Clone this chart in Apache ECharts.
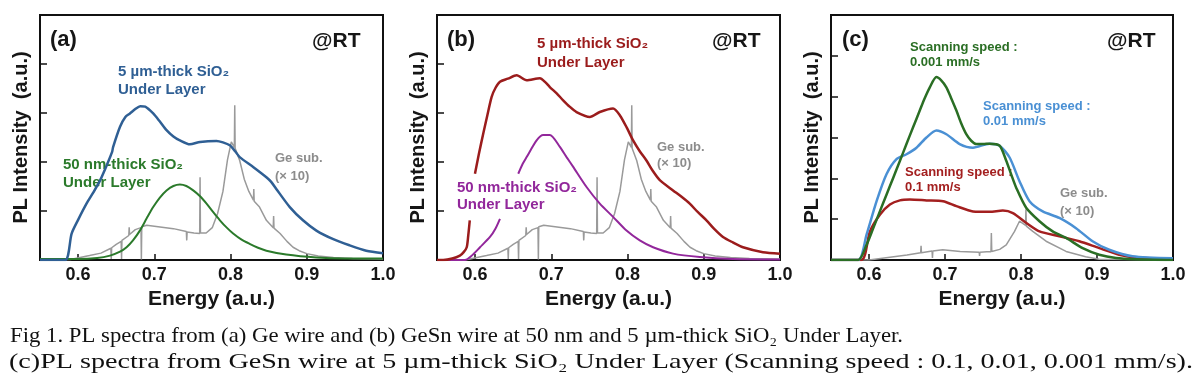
<!DOCTYPE html>
<html>
<head>
<meta charset="utf-8">
<script src="https://cdn.jsdelivr.net/npm/echarts@6/dist/echarts.min.js"></script>
<style>html,body{margin:0;padding:0;background:#fff;}#c{width:1200px;height:386px;}</style>
</head>
<body>
<div id="c"></div>
<script>
// ---------- tick values ----------
const xTicks = [0.6, 0.7, 0.8, 0.9, 1.0];

// ---------- Ge substrate reference (x10), panels a and b ----------
const geSubAB = [[0.550,0.00],[0.590,0.01],[0.615,0.09],[0.630,0.14],[0.643,0.24],[0.6435,0.02],[0.644,0.25],[0.650,0.32],
  [0.6565,0.38],[0.657,0.02],[0.6575,0.40],[0.6665,0.50],[0.667,0.67],[0.6675,0.52],[0.675,0.62],[0.6825,0.66],[0.683,0.01],
  [0.6835,0.68],[0.690,0.71],[0.700,0.69],[0.710,0.67],[0.725,0.64],[0.742,0.58],[0.7425,0.40],[0.743,0.57],[0.752,0.55],
  [0.7595,0.54],[0.760,1.69],[0.7605,0.55],[0.768,0.55],[0.776,0.66],[0.783,0.95],[0.790,1.40],[0.796,2.05],[0.801,2.41],
  [0.805,2.30],[0.8055,3.16],[0.806,2.28],[0.812,2.03],[0.818,1.65],[0.824,1.40],[0.830,1.22],[0.8305,1.45],[0.831,1.20],
  [0.838,1.08],[0.847,0.81],[0.856,0.66],[0.8565,0.90],[0.857,0.65],[0.865,0.54],[0.874,0.38],[0.882,0.26],[0.890,0.19],
  [0.900,0.13],[0.915,0.08],[0.935,0.05],[0.960,0.03],[1.000,0.02]];

// ---------- panel (a): Ge wire ----------
const aThick5um = [[0.550,0.00],[0.583,0.00],[0.5915,0.54],[0.600,0.82],[0.611,1.15],[0.620,1.38],[0.629,1.63],[0.638,1.95],
  [0.6445,2.20],[0.646,2.31],[0.655,2.72],[0.662,2.92],[0.668,2.99],[0.675,3.08],[0.6815,3.14],[0.688,3.13],[0.6985,2.99],
  [0.707,2.83],[0.716,2.65],[0.725,2.52],[0.7335,2.44],[0.7466,2.36],[0.760,2.41],[0.7816,2.43],[0.790,2.40],[0.799,2.34],
  [0.806,2.22],[0.812,2.10],[0.8296,1.90],[0.847,1.69],[0.853,1.60],[0.860,1.45],[0.8777,1.08],[0.895,0.81],[0.9126,0.60],
  [0.934,0.43],[0.956,0.30],[0.978,0.19],[1.000,0.14]];
const aThin50nm = [[0.550,0.02],[0.600,0.02],[0.625,0.04],[0.6418,0.09],[0.655,0.17],[0.6636,0.26],[0.672,0.40],[0.681,0.60],
  [0.690,0.85],[0.6985,1.08],[0.707,1.27],[0.716,1.42],[0.725,1.51],[0.7335,1.54],[0.742,1.51],[0.751,1.42],[0.760,1.30],
  [0.7685,1.15],[0.777,0.98],[0.786,0.81],[0.795,0.66],[0.8034,0.54],[0.814,0.42],[0.825,0.33],[0.836,0.25],[0.847,0.19],
  [0.873,0.11],[0.9126,0.05],[0.950,0.03],[1.000,0.03]];

// ---------- panel (b): GeSn wire ----------
const bThick5um = [[0.550,0.00],[0.5583,0.00],[0.570,0.03],[0.580,0.09],[0.585,0.16],[0.589,0.26],[0.591,0.50],[0.593,0.81],
  [0.596,null],[0.5998,1.76],[0.605,2.17],[0.6107,2.58],[0.616,2.95],[0.6217,3.33],[0.627,3.52],[0.6326,3.64],[0.643,3.70],
  [0.6545,3.77],[0.6676,3.67],[0.685,3.71],[0.692,3.63],[0.698,3.53],[0.707,3.40],[0.7155,3.26],[0.724,3.13],[0.733,3.02],
  [0.7505,2.92],[0.7636,3.02],[0.781,3.09],[0.790,2.95],[0.799,2.70],[0.8073,2.44],[0.816,2.22],[0.8248,2.03],[0.833,1.82],
  [0.8423,1.63],[0.8597,1.42],[0.870,1.30],[0.8816,1.15],[0.892,0.98],[0.9035,0.81],[0.914,0.63],[0.9252,0.47],[0.938,0.36],
  [0.9514,0.26],[0.9776,0.16],[1.000,0.13]];
const bThin50nm = [[0.550,0.00],[0.5867,0.00],[0.595,0.08],[0.6064,0.26],[0.6195,0.47],[0.627,0.65],[0.6326,0.84],[0.645,null],
  [0.6566,1.76],[0.662,1.95],[0.6676,2.10],[0.6807,2.44],[0.6893,2.55],[0.698,2.55],[0.7112,2.31],[0.720,2.10],[0.7287,1.90],
  [0.7462,1.49],[0.7636,1.15],[0.781,0.88],[0.7986,0.60],[0.816,0.40],[0.8335,0.26],[0.8597,0.13],[0.8947,0.06],[0.938,0.02],
  [1.000,0.01]];

// ---------- panel (c): scanning speeds ----------
const cSpeed0001 = [[0.550,0.00],[0.5858,0.00],[0.5968,0.37],[0.605,0.75],[0.6143,1.19],[0.623,1.60],[0.6318,2.01],[0.6405,2.42],
  [0.6493,2.84],[0.658,3.25],[0.6668,3.66],[0.673,3.95],[0.680,4.23],[0.6887,4.48],[0.695,4.40],[0.7018,4.23],[0.708,3.97],
  [0.715,3.66],[0.721,3.36],[0.728,3.08],[0.7345,2.92],[0.7412,2.84],[0.750,2.84],[0.7587,2.85],[0.7718,2.80],[0.7806,2.43],
  [0.787,2.10],[0.7937,1.77],[0.8068,1.28],[0.8243,0.95],[0.8417,0.70],[0.8593,0.54],[0.8811,0.29],[0.903,0.13],[0.925,0.05],
  [0.950,0.02],[1.000,0.00]];
const cSpeed001 = [[0.550,0.00],[0.5858,0.00],[0.5968,0.62],[0.610,1.44],[0.623,2.10],[0.6362,2.47],[0.6493,2.59],[0.6625,2.75],
  [0.6756,3.00],[0.6887,3.17],[0.7018,3.08],[0.7193,2.84],[0.7368,2.75],[0.7587,2.85],[0.7718,2.80],[0.785,2.51],[0.798,1.93],
  [0.8112,1.44],[0.8286,1.19],[0.8505,1.03],[0.8724,0.78],[0.8942,0.46],[0.9161,0.25],[0.9467,0.09],[1.000,0.04]];
const cSpeed01 = [[0.550,0.00],[0.590,0.00],[0.6012,0.70],[0.6143,1.11],[0.6275,1.36],[0.6406,1.46],[0.6537,1.48],[0.6756,1.46],
  [0.6974,1.44],[0.715,1.32],[0.7368,1.19],[0.7587,1.18],[0.7761,1.21],[0.7893,1.15],[0.8068,0.91],[0.8243,0.70],[0.8505,0.58],
  [0.8767,0.46],[0.903,0.29],[0.9292,0.13],[0.9512,0.06],[1.000,0.03]];
const cGeSub = [[0.550,0.00],[0.600,0.00],[0.620,0.05],[0.650,0.12],[0.668,0.18],[0.6685,0.35],[0.669,0.18],[0.683,0.22],
  [0.6835,0.05],[0.684,0.22],[0.697,0.25],[0.720,0.21],[0.745,0.19],[0.7455,0.10],[0.746,0.19],[0.755,0.20],[0.7605,0.20],
  [0.761,0.66],[0.7615,0.21],[0.772,0.26],[0.7806,0.37],[0.7915,0.70],[0.798,0.95],[0.806,0.85],[0.8065,1.24],[0.807,0.83],
  [0.8155,0.70],[0.833,0.46],[0.8593,0.21],[0.885,0.08],[0.903,0.02],[1.000,0.00]];

// ---------- texts ----------
const captionLines = [
  'Fig 1. PL spectra from (a) Ge wire and (b) GeSn wire at 50 nm and 5 \u00b5m-thick SiO\u2082 Under Layer.',
  '(c)PL spectra from GeSn wire at 5 \u00b5m-thick SiO\u2082 Under Layer (Scanning speed : 0.1, 0.01, 0.001 mm/s).'
];

const SANS = "'Liberation Sans', Arial, sans-serif";
const chart = echarts.init(document.getElementById('c'), null, {renderer: 'canvas'});

const grids = [
  {left: 40, top: 15, width: 343, height: 245},
  {left: 437, top: 15, width: 343, height: 245},
  {left: 831, top: 15, width: 342, height: 245}
].map(g => Object.assign(g, {show: true, borderColor: '#111', borderWidth: 2, backgroundColor: 'transparent'}));

function xAx(i) {
  return {
    type: 'value', gridIndex: i, min: 0.55, max: 1.0,
    axisLine: {show: false},
    axisTick: {show: true, inside: true, length: 6, customValues: xTicks, lineStyle: {color: '#111', width: 1.5}},
    axisLabel: {show: true, customValues: xTicks, formatter: v => v.toFixed(1), margin: 6,
      fontFamily: SANS, fontWeight: 'bold', fontSize: 18, color: '#161616'},
    splitLine: {show: false},
    name: 'Energy (a.u.)', nameLocation: 'middle', nameGap: 27,
    nameTextStyle: {fontFamily: SANS, fontWeight: 'bold', fontSize: 21, color: '#161616'}
  };
}
function yAx(i, max) {
  return {
    type: 'value', gridIndex: i, min: 0, max: max, interval: 1,
    axisLine: {show: false},
    axisTick: {show: true, inside: true, length: 7, lineStyle: {color: '#111', width: 1.5}},
    axisLabel: {show: false},
    splitLine: {show: false},
    name: 'PL Intensity  (a.u.)', nameLocation: 'middle', nameGap: 9,
    nameTextStyle: {fontFamily: SANS, fontWeight: 'bold', fontSize: 20, color: '#161616'}
  };
}
function line(i, data, color, width, smooth) {
  return {type: 'line', xAxisIndex: i, yAxisIndex: i, data: data, showSymbol: false, symbol: 'none',
    smooth: smooth ? 0.25 : false, connectNulls: false, silent: true, animation: false,
    lineStyle: {color: color, width: width}};
}
function txt(left, top, text, color, size, lh) {
  return {type: 'text', left: left, top: top, silent: true,
    style: {text: text, fill: color, font: 'bold ' + size + 'px ' + SANS, lineHeight: lh || size + 3}};
}

// caption: fit each line to its measured width in the figure
const ctx = document.createElement('canvas').getContext('2d');
const capFont = "21px 'Liberation Serif', 'Times New Roman', serif";
ctx.font = capFont;
const capTargets = [{x: 10, y: 326, w: 893}, {x: 9, y: 352, w: 1184}];
const captionEls = captionLines.map((t, k) => {
  const w = ctx.measureText(t).width;
  return {type: 'text', x: capTargets[k].x, y: capTargets[k].y, scaleX: capTargets[k].w / w, silent: true,
    style: {text: t, fill: '#111', font: capFont}};
});

const grayC = '#9a9a9a';
chart.setOption({
  animation: false,
  grid: grids,
  xAxis: [xAx(0), xAx(1), xAx(2)],
  yAxis: [yAx(0, 5), yAx(1, 5), yAx(2, 6)],
  series: [
    line(0, geSubAB, grayC, 1.5, false),
    line(0, aThin50nm, '#2b7a2b', 2, true),
    line(0, aThick5um, '#2f5f94', 2.5, true),
    line(1, geSubAB, grayC, 1.5, false),
    line(1, bThin50nm, '#92279b', 2, true),
    line(1, bThick5um, '#9b1c1c', 2.5, true),
    line(2, cGeSub, grayC, 1.5, false),
    line(2, cSpeed01, '#a31f1f', 2.5, true),
    line(2, cSpeed001, '#4a90d4', 2.5, true),
    line(2, cSpeed0001, '#2a6e24', 2.5, true)
  ],
  graphic: [
    txt(50, 28, '(a)', '#161616', 22, 24),
    txt(312, 29, '@RT', '#161616', 21, 24),
    txt(118, 63, '5 \u00b5m-thick SiO\u2082\nUnder Layer', '#2f5f94', 15, 18),
    txt(63, 156, '50 nm-thick SiO\u2082\nUnder Layer', '#2b7a2b', 15, 18),
    txt(275, 149, 'Ge sub.\n(\u00d7 10)', '#8c8c8c', 13, 18),

    txt(447, 28, '(b)', '#161616', 22, 24),
    txt(712, 29, '@RT', '#161616', 21, 24),
    txt(537, 34, '5 \u00b5m-thick SiO\u2082\nUnder Layer', '#9b1c1c', 15, 19),
    txt(457, 179, '50 nm-thick SiO\u2082\nUnder Layer', '#92279b', 15, 17),
    txt(657, 139, 'Ge sub.\n(\u00d7 10)', '#8c8c8c', 13, 16),

    txt(842, 28, '(c)', '#161616', 22, 24),
    txt(1107, 29, '@RT', '#161616', 21, 24),
    txt(910, 40, 'Scanning speed :\n0.001 mm/s', '#2a6e24', 13, 15),
    txt(983, 99, 'Scanning speed :\n0.01 mm/s', '#4a90d4', 13, 15),
    txt(905, 165, 'Scanning speed :\n0.1 mm/s', '#a31f1f', 13, 15),
    txt(1060, 184, 'Ge sub.\n(\u00d7 10)', '#8c8c8c', 13, 18)
  ].concat(captionEls)
});
</script>
</body>
</html>
